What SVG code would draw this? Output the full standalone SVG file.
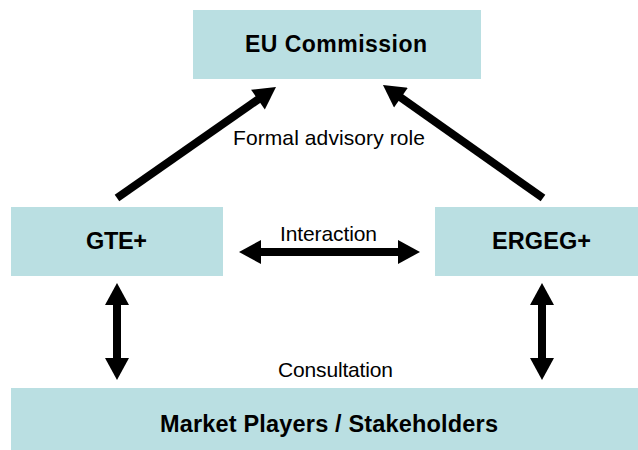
<svg xmlns="http://www.w3.org/2000/svg" width="638" height="450" viewBox="0 0 638 450">
<style>
.box{fill:#BADFE2;stroke:none}
.b{font-family:"Liberation Sans",Arial,sans-serif;font-weight:bold;fill:#000;text-anchor:middle}
.r{font-family:"Liberation Sans",Arial,sans-serif;fill:#000;text-anchor:middle;font-size:21px}
.c{stroke:#000;stroke-width:8;fill:none}
</style>
<defs>
<marker id="ah" markerUnits="userSpaceOnUse" markerWidth="24" markerHeight="24" viewBox="0 0 22 24" refX="2" refY="12" orient="auto-start-reverse">
<path d="M0,0 L22,12 L0,24 z" fill="#000"/>
</marker>
</defs>
<rect width="638" height="450" fill="#fff"/>
<g id="eu">
<rect class="box" x="193" y="10" width="288" height="69"/>
<text class="b" x="336" y="52" font-size="23" textLength="182" lengthAdjust="spacing">EU Commission</text>
</g>
<g id="gte">
<rect class="box" x="11" y="207" width="212" height="69"/>
<text class="b" x="116.5" y="249" font-size="23.5" textLength="61" lengthAdjust="spacing">GTE+</text>
</g>
<g id="ergeg">
<rect class="box" x="435" y="207" width="213" height="69"/>
<text class="b" x="541.5" y="249" font-size="23.5" textLength="99" lengthAdjust="spacing">ERGEG+</text>
</g>
<g id="market">
<rect class="box" x="11" y="388" width="637" height="72"/>
<text class="b" x="329" y="432" font-size="23.5" textLength="338" lengthAdjust="spacing">Market Players / Stakeholders</text>
</g>
<g id="connectors">
<line class="c" x1="117" y1="198" x2="259.6" y2="98.4" marker-end="url(#ah)"/>
<line class="c" x1="543" y1="198" x2="399.3" y2="96.5" marker-end="url(#ah)"/>
<line class="c" x1="259" y1="252" x2="400" y2="252" marker-start="url(#ah)" marker-end="url(#ah)"/>
<line class="c" x1="117" y1="303" x2="117" y2="360" marker-start="url(#ah)" marker-end="url(#ah)"/>
<line class="c" x1="542" y1="303" x2="542" y2="360" marker-start="url(#ah)" marker-end="url(#ah)"/>
<text class="r" x="329" y="145" textLength="192" lengthAdjust="spacing">Formal advisory role</text>
<text class="r" x="328.5" y="241" textLength="97" lengthAdjust="spacing">Interaction</text>
<text class="r" x="335.5" y="377" textLength="115" lengthAdjust="spacing">Consultation</text>
</g>
</svg>
